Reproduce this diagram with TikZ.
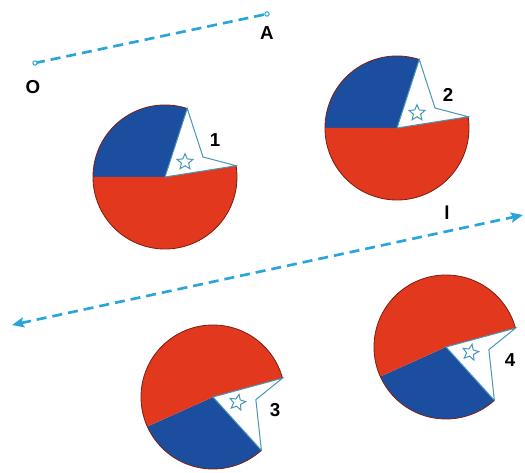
\documentclass[tikz,border=0pt]{standalone}
\usepackage{fontspec}
\setsansfont{Liberation Sans}
\usetikzlibrary{arrows.meta, shapes.geometric}

\definecolor{lineblue}{RGB}{42,165,220}
\definecolor{flagblue}{RGB}{28,78,160}
\definecolor{flagred}{RGB}{226,56,30}
\definecolor{edgeteal}{RGB}{70,150,185}

\tikzset{
  dashline/.style={lineblue, line width=0.8mm, dash pattern=on 3mm off 1.8mm},
  lbl/.style={font=\sffamily\bfseries\fontsize{16}{18}\selectfont},
  flagdisc/.pic={
    \fill[flagblue] (0,0) -- (72:72) arc[start angle=72, end angle=180, radius=72] -- cycle;
    \fill[flagred] (0,0) -- (180:72) arc[start angle=180, end angle=369, radius=72] -- cycle;
    \draw[flagred!55!black, line width=0.25mm] (72:72) arc[start angle=72, end angle=369, radius=72];
    \draw[edgeteal, line width=0.3mm, fill=white] (0,0) -- (72:72) -- (38,20) -- (9:72) -- cycle;
    \node[star, star points=5, star point ratio=2.2, draw=edgeteal, line width=0.3mm,
          minimum size=5mm, inner sep=0pt, transform shape] at (20,15) {};
  }
}

\begin{document}
\begin{tikzpicture}[x=0.3mm, y=0.3mm, >=Stealth]
  \useasboundingbox (0,0) rectangle (525,472);

  % translation vector OA
  \coordinate (O) at (35,409);
  \coordinate (A) at (267,458);
  \draw[dashline] (O) -- (A);
  \draw[lineblue, line width=0.3mm, fill=white] (O) circle[radius=2.2] (A) circle[radius=2.2];
  \node[lbl] (Olabel) at (33,385) {O};
  \node[lbl] (Alabel) at (267,439) {A};

  % axis l
  \coordinate (lleft) at (12,147);
  \coordinate (lright) at (523,257);
  \draw[dashline, {Stealth[length=3.6mm, width=3mm, inset=0.6mm]}-{Stealth[length=3.6mm, width=3mm, inset=0.6mm]}] (lleft) -- (lright);
  \node[lbl] (llabel) at (447,259) {l};

  % the four discs
  \pic at (165,295) {flagdisc};
  \pic at (397,344) {flagdisc};
  \pic[rotate=24.2, yscale=-1] at (213,75) {flagdisc};
  \pic[rotate=24.2, yscale=-1] at (446,125) {flagdisc};

  \node[lbl] (one) at (215,332) {1};
  \node[lbl] (two) at (448,377) {2};
  \node[lbl] (three) at (275,62) {3};
  \node[lbl] (four) at (510,112) {4};
\end{tikzpicture}
\end{document}
